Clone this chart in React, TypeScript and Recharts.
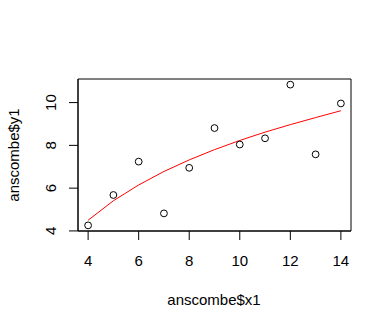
import {
  ComposedChart,
  Scatter,
  Line,
  XAxis,
  YAxis,
  Label,
  ReferenceArea,
} from 'recharts';

// anscombe x1 / y1
const X1 = [10, 8, 13, 9, 11, 14, 6, 4, 12, 7, 5];
const Y1 = [8.04, 6.95, 7.58, 8.81, 8.33, 9.96, 7.24, 4.26, 10.84, 4.82, 5.68];

// red fitted curve at each integer x
const FIT_X = [4, 5, 6, 7, 8, 9, 10, 11, 12, 13, 14];
const FIT_Y = [4.5, 5.41, 6.15, 6.78, 7.32, 7.8, 8.23, 8.62, 8.97, 9.3, 9.62];

const X_TICKS = [4, 6, 8, 10, 12, 14];
const Y_TICKS = [4, 6, 8, 10];
const Y_MINOR = [5, 7, 9];

const FONT = '"Liberation Sans", Arial, sans-serif';

const X_DOMAIN: [number, number] = [3.6, 14.4];
const Y_DOMAIN: [number, number] = [3.997, 11.103];

const points = X1.map((x, i) => ({ x, y: Y1[i] }));
const fit = FIT_X.map((x, i) => ({ x, fit: FIT_Y[i] }));

function Ring(props: any) {
  const { cx, cy } = props;
  if (cx == null || cy == null) return null;
  return <circle cx={cx} cy={cy} r={3.4} fill="none" stroke="#000" strokeWidth={1} />;
}

function YTick(props: any) {
  const { x, y, payload } = props;
  const label = Y_TICKS.includes(payload.value) ? String(payload.value) : '';
  return (
    <text
      x={x}
      y={y}
      transform={`rotate(-90, ${x}, ${y})`}
      textAnchor="middle"
      fontSize={15}
      fontFamily={FONT}
      fill="#000"
    >
      {label}
    </text>
  );
}

export default function App() {
  return (
    <div style={{ position: 'absolute', left: 0, top: 0, background: '#fff' }}>
      <ComposedChart
        width={392}
        height={329}
        data={fit}
        margin={{ top: 79, right: 41, bottom: 68, left: 38 }}
      >
        <XAxis
          type="number"
          dataKey="x"
          domain={X_DOMAIN}
          ticks={X_TICKS}
          allowDataOverflow
          tickSize={9}
          tickMargin={15}
          height={30}
          stroke="#000"
          tick={{ fontSize: 15, fontFamily: FONT, fill: '#000' }}
        >
          <Label
            content={() => (
              <text x={214} y={305} textAnchor="middle" fontSize={15} fontFamily={FONT} fill="#000">
                anscombe$x1
              </text>
            )}
          />
        </XAxis>
        <YAxis
          type="number"
          domain={Y_DOMAIN}
          ticks={[...Y_TICKS, ...Y_MINOR].sort((a, b) => a - b)}
          allowDataOverflow
          tickSize={9}
          tickMargin={13}
          width={40}
          stroke="#000"
          tick={<YTick />}
        >
          <Label
            content={() => (
              <text
                x={19}
                y={155}
                transform="rotate(-90, 19, 155)"
                textAnchor="middle"
                fontSize={15}
                fontFamily={FONT}
                fill="#000"
              >
                anscombe$y1
              </text>
            )}
          />
        </YAxis>
        <ReferenceArea
          x1={X_DOMAIN[0]}
          x2={X_DOMAIN[1]}
          y1={Y_DOMAIN[0]}
          y2={Y_DOMAIN[1]}
          fill="none"
          fillOpacity={0}
          stroke="#000"
          strokeWidth={1}
          ifOverflow="visible"
        />
        <Line
          dataKey="fit"
          stroke="#ff0000"
          strokeWidth={1}
          dot={false}
          activeDot={false}
          isAnimationActive={false}
        />
        <Scatter data={points} dataKey="y" shape={<Ring />} isAnimationActive={false} />
      </ComposedChart>
    </div>
  );
}
